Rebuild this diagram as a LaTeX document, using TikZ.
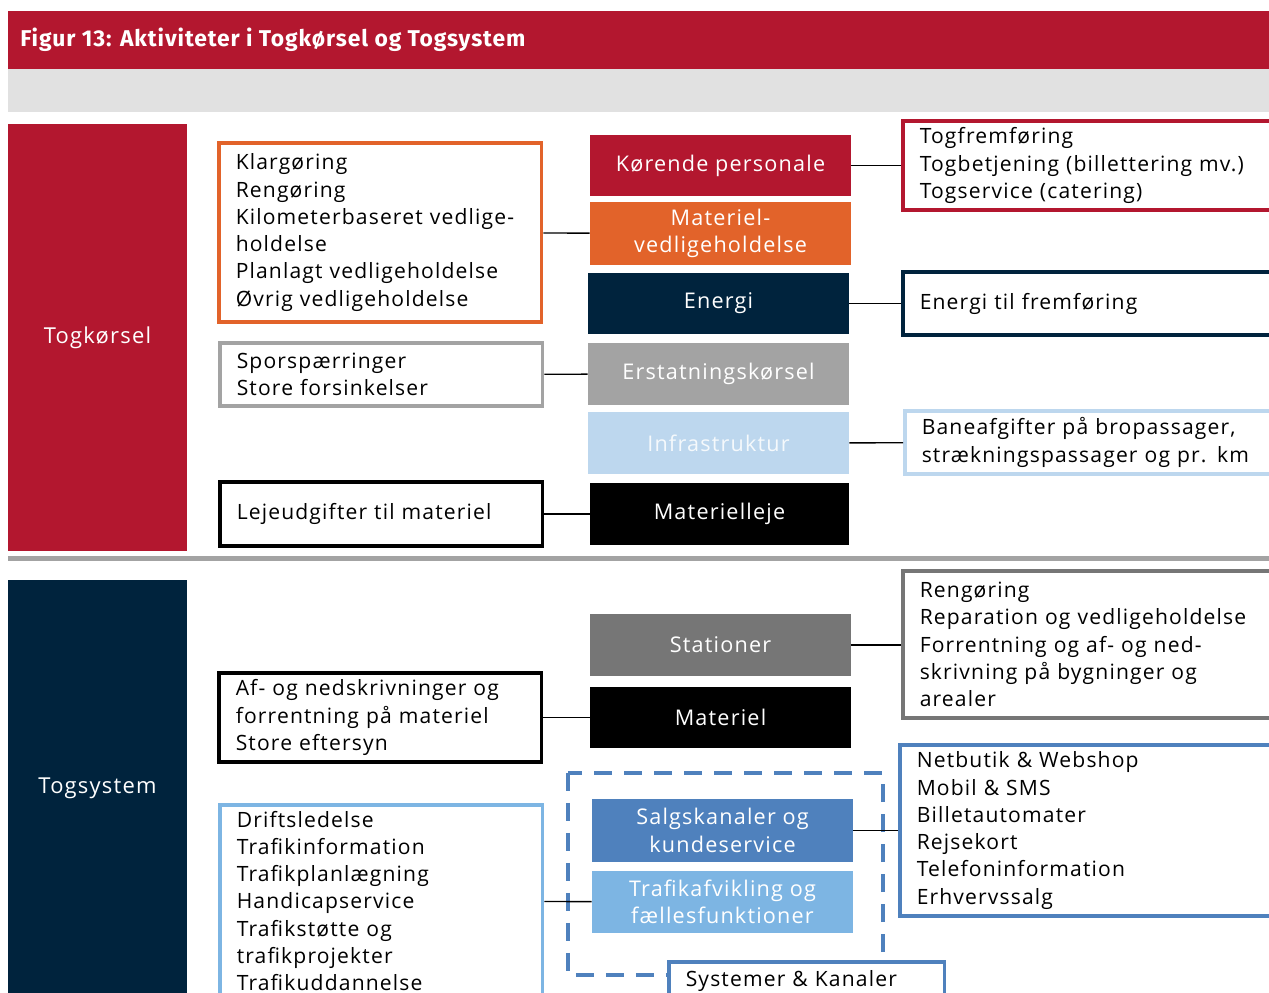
\documentclass[tikz,border=0pt]{standalone}
\usepackage{fontspec}
\setmainfont{Open Sans}[LetterSpace=5.5]
\newfontfamily\headfont{Fira Sans}[LetterSpace=4]
\usepackage{tikz}
\usetikzlibrary{shapes,calc}

\definecolor{dsbred}{HTML}{B3172F}
\definecolor{dsborange}{HTML}{E2632A}
\definecolor{dsbnavy}{HTML}{00233D}
\definecolor{dsbgray}{HTML}{A3A3A3}
\definecolor{dsbdgray}{HTML}{767676}
\definecolor{dsbsky}{HTML}{BDD7EE}
\definecolor{dsbblue}{HTML}{4F81BD}
\definecolor{dsblblue}{HTML}{7DB5E3}
\definecolor{dsbband}{HTML}{E1E1E1}

\begin{document}
\begin{tikzpicture}[x=0.02cm,y=-0.02cm,font=\fontsize{12}{15.5}\selectfont]
    \tikzstyle{edge}=[line width=0.8pt,draw=black]
    \tikzstyle{catbox}=[
      rectangle,
      fill=dsbred,
      text=white,
      minimum width=3.58cm,
      inner sep=0pt,
      font=\fontsize{12.5}{15.5}\selectfont,
    ]
    \tikzstyle{fbox}=[
      rectangle,
      text=white,
      align=center,
      minimum width=5.22cm,
      minimum height=1.23cm,
      inner sep=0pt,
      font=\fontsize{12.3}{15.5}\selectfont,
    ]
    \tikzstyle{tbox}=[
      rectangle,
      draw=black,
      fill=white,
      line width=2pt,
      align=left,
      anchor=west,
      inner xsep=0.34cm,
      inner ysep=0pt,
      text width=5.78cm,
    ]
    \tikzstyle{rbox}=[
      tbox,
      text width=7.4cm,
    ]

    \useasboundingbox (0,0) rectangle (1269,993);
    \clip (0,0) rectangle (1269,993);

    {
      \fill[dsbred] (8,11) rectangle (1280,69);
      \fill[dsbband] (8,69) rectangle (1280,112);
      \node[anchor=west,text=white,inner xsep=0pt,font=\headfont\bfseries\fontsize{13}{15}\selectfont] (hd) at (20,40) {Figur 13: Aktiviteter i Togkørsel og Togsystem};
      \fill[dsbgray] (8,555.5) rectangle (1280,561);
    }

    {
      \node[catbox,minimum height=8.54cm] (tk) at (97.5,337.5) {Togkørsel};
      \node[catbox,fill=dsbnavy,minimum height=8.6cm] (ts) at (97.5,795) {};
      \node[text=white,font=\fontsize{12.5}{15.5}\selectfont] (tslabel) at (97.5,788) {Togsystem};
    }

    {
      \node[fbox,fill=dsbred] (kp) at (720.5,165.5) {Kørende personale};
      \node[fbox,fill=dsborange,minimum height=1.26cm] (mv) at (720.5,233.5) {Materiel-\\vedligeholdelse};
      \node[fbox,fill=dsbnavy] (en) at (718.5,303.5) {Energi};
      \node[fbox,fill=dsbgray] (er) at (718.5,374) {Erstatningskørsel};
      \node[fbox,fill=dsbsky,text=white!85!dsbsky] (in) at (718.5,443) {Infrastruktur};
      \node[fbox,fill=black,minimum width=5.18cm] (ml) at (719.5,514) {Materielleje};

      \node[fbox,fill=dsbdgray] (st) at (720.5,645) {Stationer};
      \node[fbox,fill=black] (ma) at (720.5,717.5) {Materiel};
      \node[fbox,fill=dsbblue,minimum height=1.26cm] (sk) at (722.5,830.5) {Salgskanaler og\\kundeservice};
      \node[fbox,fill=dsblblue,minimum height=1.24cm] (tf) at (722.5,902) {Trafikafvikling og\\fællesfunktioner};
    }

    {
      \node[tbox,draw=dsborange,minimum height=3.58cm] (ob) at (217,232.5) {Klargøring\\Rengøring\\Kilometerbaseret vedlige-\\holdelse\\Planlagt vedligeholdelse\\Øvrig vedligeholdelse};
      \node[tbox,draw=dsbgray,minimum height=1.26cm] (gb) at (218,374.5) {Sporspærringer\\Store forsinkelser};
      \node[tbox,minimum height=1.28cm] (lb) at (218,514) {Lejeudgifter til materiel};

      \node[rbox,draw=dsbred,minimum height=1.78cm] (rb) at (901,165.5) {Togfremføring\\Togbetjening (billettering mv.)\\Togservice (catering)};
      \node[rbox,draw=dsbnavy,minimum height=1.26cm] (nb) at (901,303.5) {Energi til fremføring};
      \node[rbox,draw=dsbsky,minimum height=1.26cm] (ib) at (903,442.5) {Baneafgifter på bropassager,\\strækningspassager og pr. km};

      \node[rbox,draw=dsbdgray,minimum height=2.94cm] (sb) at (901,644.5) {Rengøring\\Reparation og vedligeholdelse\\Forrentning og af- og ned-\\skrivning på bygninger og\\arealer};
      \node[tbox,minimum height=1.78cm] (mb) at (217,717.5) {Af- og nedskrivninger og\\forrentning på materiel\\Store eftersyn};
      \node[rbox,draw=dsbblue,minimum height=3.42cm] (bb) at (898,830.5) {Netbutik \& Webshop\\Mobil \& SMS\\Billetautomater\\Rejsekort\\Telefoninformation\\Erhvervssalg};
      \node[tbox,draw=dsblblue,minimum height=3.84cm] (fb) at (218,901) {Driftsledelse\\Trafikinformation\\Trafikplanlægning\\Handicapservice\\Trafikstøtte og\\trafikprojekter\\Trafikuddannelse};
    }

    {
      \draw[dsbblue,line width=1.8pt,dash pattern=on 0.36cm off 0.24cm] (568,773) rectangle (883,975);
      \node[tbox,draw=dsbblue,text width=4.84cm,minimum height=0.76cm] (sys) at (667,981) {Systemer \& Kanaler};
    }

    {
      \draw[edge] (kp)--(rb);
      \draw[edge] (ob)--(mv);
      \draw[edge] (en)--(nb);
      \draw[edge] (gb)--(er);
      \draw[edge] (in)--(ib);
      \draw[edge] (lb)--(ml);

      \draw[edge] (st.east)--(st.east-|sb.west);
      \draw[edge] (mb)--(ma);
      \draw[edge] (sk)--(bb.west|-sk.east);
      \draw[edge] (fb)--(tf);
    }
\end{tikzpicture}
\end{document}
